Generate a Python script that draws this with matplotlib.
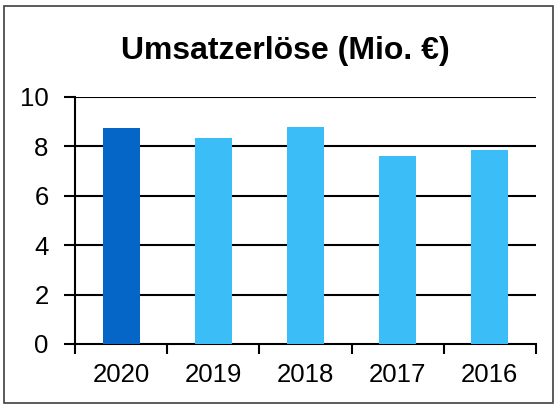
import matplotlib.pyplot as plt
from matplotlib.patches import Rectangle

plt.rcParams['font.family'] = ['Liberation Sans', 'DejaVu Sans']

years = ["2020", "2019", "2018", "2017", "2016"]
revenue = [8.72, 8.35, 8.8, 7.62, 7.83]
colors = ["#0566C8", "#3BBDF8", "#3BBDF8", "#3BBDF8", "#3BBDF8"]

fig = plt.figure(figsize=(5.6, 4.07), dpi=100)
ax = fig.add_axes([0.134, 0.155, 0.823, 0.607])

x = range(len(years))
ax.bar(x, revenue, width=0.4, color=colors, zorder=3)

ax.set_xlim(-0.5, len(years) - 0.5)
ax.set_ylim(0, 10)
ax.set_yticks([0, 2, 4, 6, 8, 10])
ax.set_xticks([i - 0.5 for i in range(len(years) + 1)])
ax.set_xticklabels([])
ax.set_xticks(list(x), minor=True)
ax.set_xticklabels(years, minor=True)
ax.tick_params(axis='x', which='minor', length=0, labelsize=18.5, pad=14)
ax.tick_params(axis='x', which='major', length=7, width=1.5, direction='out')
ax.tick_params(axis='y', length=8, width=1.5, labelsize=18.5, pad=11)

for y in [2, 4, 6, 8, 10]:
    ax.axhline(y, color='black', lw=1.5, zorder=1)

for s in ['top', 'right']:
    ax.spines[s].set_visible(False)
ax.spines['left'].set_linewidth(1.5)
ax.spines['bottom'].set_linewidth(1.5)

fig.text(0.51, 0.875, "Umsatzerlöse (Mio. €)", ha='center', va='center',
         fontsize=23, fontweight='bold')

# frame around the whole chart
fig.patches.append(Rectangle((0.008, 0.01), 0.98, 0.975, transform=fig.transFigure,
                             fill=False, edgecolor='#404040', lw=1.2))

fig.savefig("out.png", dpi=100)
